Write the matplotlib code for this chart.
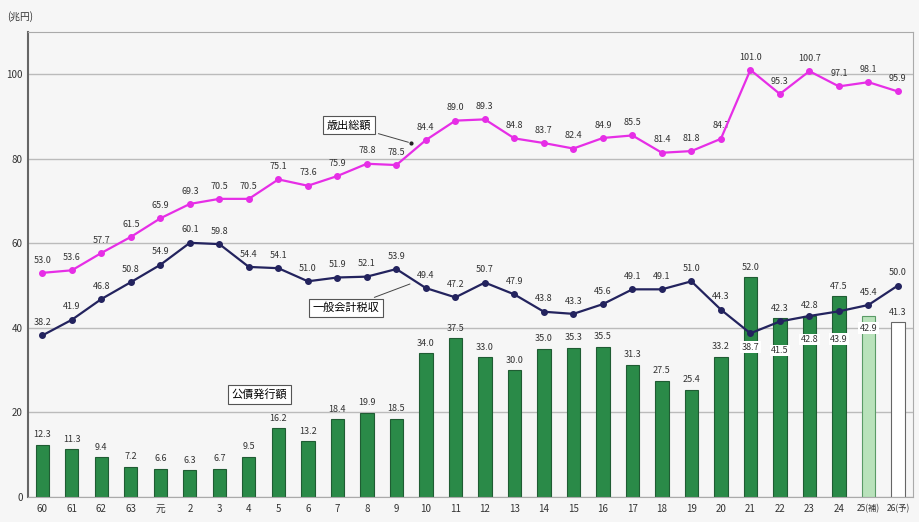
import matplotlib.pyplot as plt

plt.rcParams['font.family'] = ['Noto Sans CJK JP', 'DejaVu Sans']

# fiscal years (昭和60 ... 平成26)
years = ['60', '61', '62', '63', '元', '2', '3', '4', '5', '6', '7', '8', '9', '10',
         '11', '12', '13', '14', '15', '16', '17', '18', '19', '20', '21', '22',
         '23', '24', '25(補)', '26(予)']

# 歳出総額
spending = [53.0, 53.6, 57.7, 61.5, 65.9, 69.3, 70.5, 70.5, 75.1, 73.6, 75.9, 78.8,
            78.5, 84.4, 89.0, 89.3, 84.8, 83.7, 82.4, 84.9, 85.5, 81.4, 81.8, 84.7,
            101.0, 95.3, 100.7, 97.1, 98.1, 95.9]

# 一般会計税収
tax = [38.2, 41.9, 46.8, 50.8, 54.9, 60.1, 59.8, 54.4, 54.1, 51.0, 51.9, 52.1, 53.9,
       49.4, 47.2, 50.7, 47.9, 43.8, 43.3, 45.6, 49.1, 49.1, 51.0, 44.3, 38.7, 41.5,
       42.8, 43.9, 45.4, 50.0]

# 公債発行額
bonds = [12.3, 11.3, 9.4, 7.2, 6.6, 6.3, 6.7, 9.5, 16.2, 13.2, 18.4, 19.9, 18.5,
         34.0, 37.5, 33.0, 30.0, 35.0, 35.3, 35.5, 31.3, 27.5, 25.4, 33.2, 52.0,
         42.3, 42.8, 47.5, 42.9, 41.3]

x = list(range(len(years)))

bg = '#f6f6f6'
fig = plt.figure(figsize=(9.2, 5.22), dpi=100, facecolor=bg)
ax = fig.add_axes([0.030, 0.048, 0.962, 0.891])
ax.set_facecolor(bg)

# bars: last two years styled differently (補正後 / 予算)
face = ['#2a8a48'] * (len(x) - 2) + ['#b9e2bb', 'white']
edge = ['#1f5c33'] * (len(x) - 2) + ['#5a9a66', '#666666']
ax.bar(x, bonds, width=0.45, color=face, edgecolor=edge, linewidth=0.8, zorder=2)

ax.plot(x, spending, color='#e62ee6', lw=1.6, marker='o', ms=4, zorder=4)
ax.plot(x, tax, color='#23235e', lw=1.6, marker='o', ms=4, zorder=4)

lab = dict(fontsize=6.5, color='#333333', ha='center')
white = dict(boxstyle='square,pad=0.15', fc='white', ec='none')
# tax labels pushed down into the bars (with a white patch) where bars are tall
tax_down = {24: -10, 25: -21, 26: -17, 27: -20}
for i in x:
    ax.annotate(f'{spending[i]:.1f}', (i, spending[i]), xytext=(0, 6),
                textcoords='offset points', va='bottom', **lab)
    if i in tax_down:
        ax.annotate(f'{tax[i]:.1f}', (i, tax[i]), xytext=(0, tax_down[i]),
                    textcoords='offset points', va='center', zorder=5, bbox=white, **lab)
    else:
        ax.annotate(f'{tax[i]:.1f}', (i, tax[i]), xytext=(0, 6),
                    textcoords='offset points', va='bottom', **lab)
    if i == 28:
        ax.annotate(f'{bonds[i]:.1f}', (i, bonds[i]), xytext=(0, -9),
                    textcoords='offset points', va='center', zorder=5, bbox=white, **lab)
    else:
        ax.annotate(f'{bonds[i]:.1f}', (i, bonds[i]), xytext=(0, 4),
                    textcoords='offset points', va='bottom', **lab)

# series name boxes
box = dict(boxstyle='square,pad=0.35', fc='white', ec='#555555', lw=0.8)
ax.annotate('歳出総額', xy=(12.5, 83.7), xytext=(10.4, 87.9), fontsize=8,
            ha='center', va='center', bbox=box, zorder=6,
            arrowprops=dict(arrowstyle='-', color='#444444', lw=0.7))
ax.plot([12.5], [83.7], 'o', color='#222222', ms=2, zorder=6)
ax.annotate('一般会計税収', xy=(12.55, 50.6), xytext=(10.3, 44.7), fontsize=8,
            ha='center', va='center', bbox=box, zorder=6,
            arrowprops=dict(arrowstyle='-', color='#444444', lw=0.7))
ax.text(7.36, 24.3, '公債発行額', fontsize=8, ha='center', va='center', bbox=box, zorder=6)

ax.set_xlim(-0.5, len(x) - 0.5)
ax.set_ylim(0, 110)
ax.set_yticks([0, 20, 40, 60, 80, 100])
ax.set_xticks(x)
ax.set_xticklabels(years)
ax.tick_params(axis='both', labelsize=7, length=0, colors='#333333')
ax.tick_params(axis='x', pad=5)
for t in ax.get_xticklabels()[-2:]:
    t.set_fontsize(6)
ax.grid(axis='y', color='#bbbbbb', lw=1.0, zorder=0)
ax.set_axisbelow(True)
for s in ['top', 'right', 'bottom']:
    ax.spines[s].set_color('#aaaaaa')
ax.spines['left'].set_color('#666666')
ax.spines['left'].set_linewidth(1.5)

fig.text(0.008, 0.968, '(兆円)', fontsize=7, color='#333333', va='center')

fig.savefig('out.png', dpi=100, facecolor=bg)
